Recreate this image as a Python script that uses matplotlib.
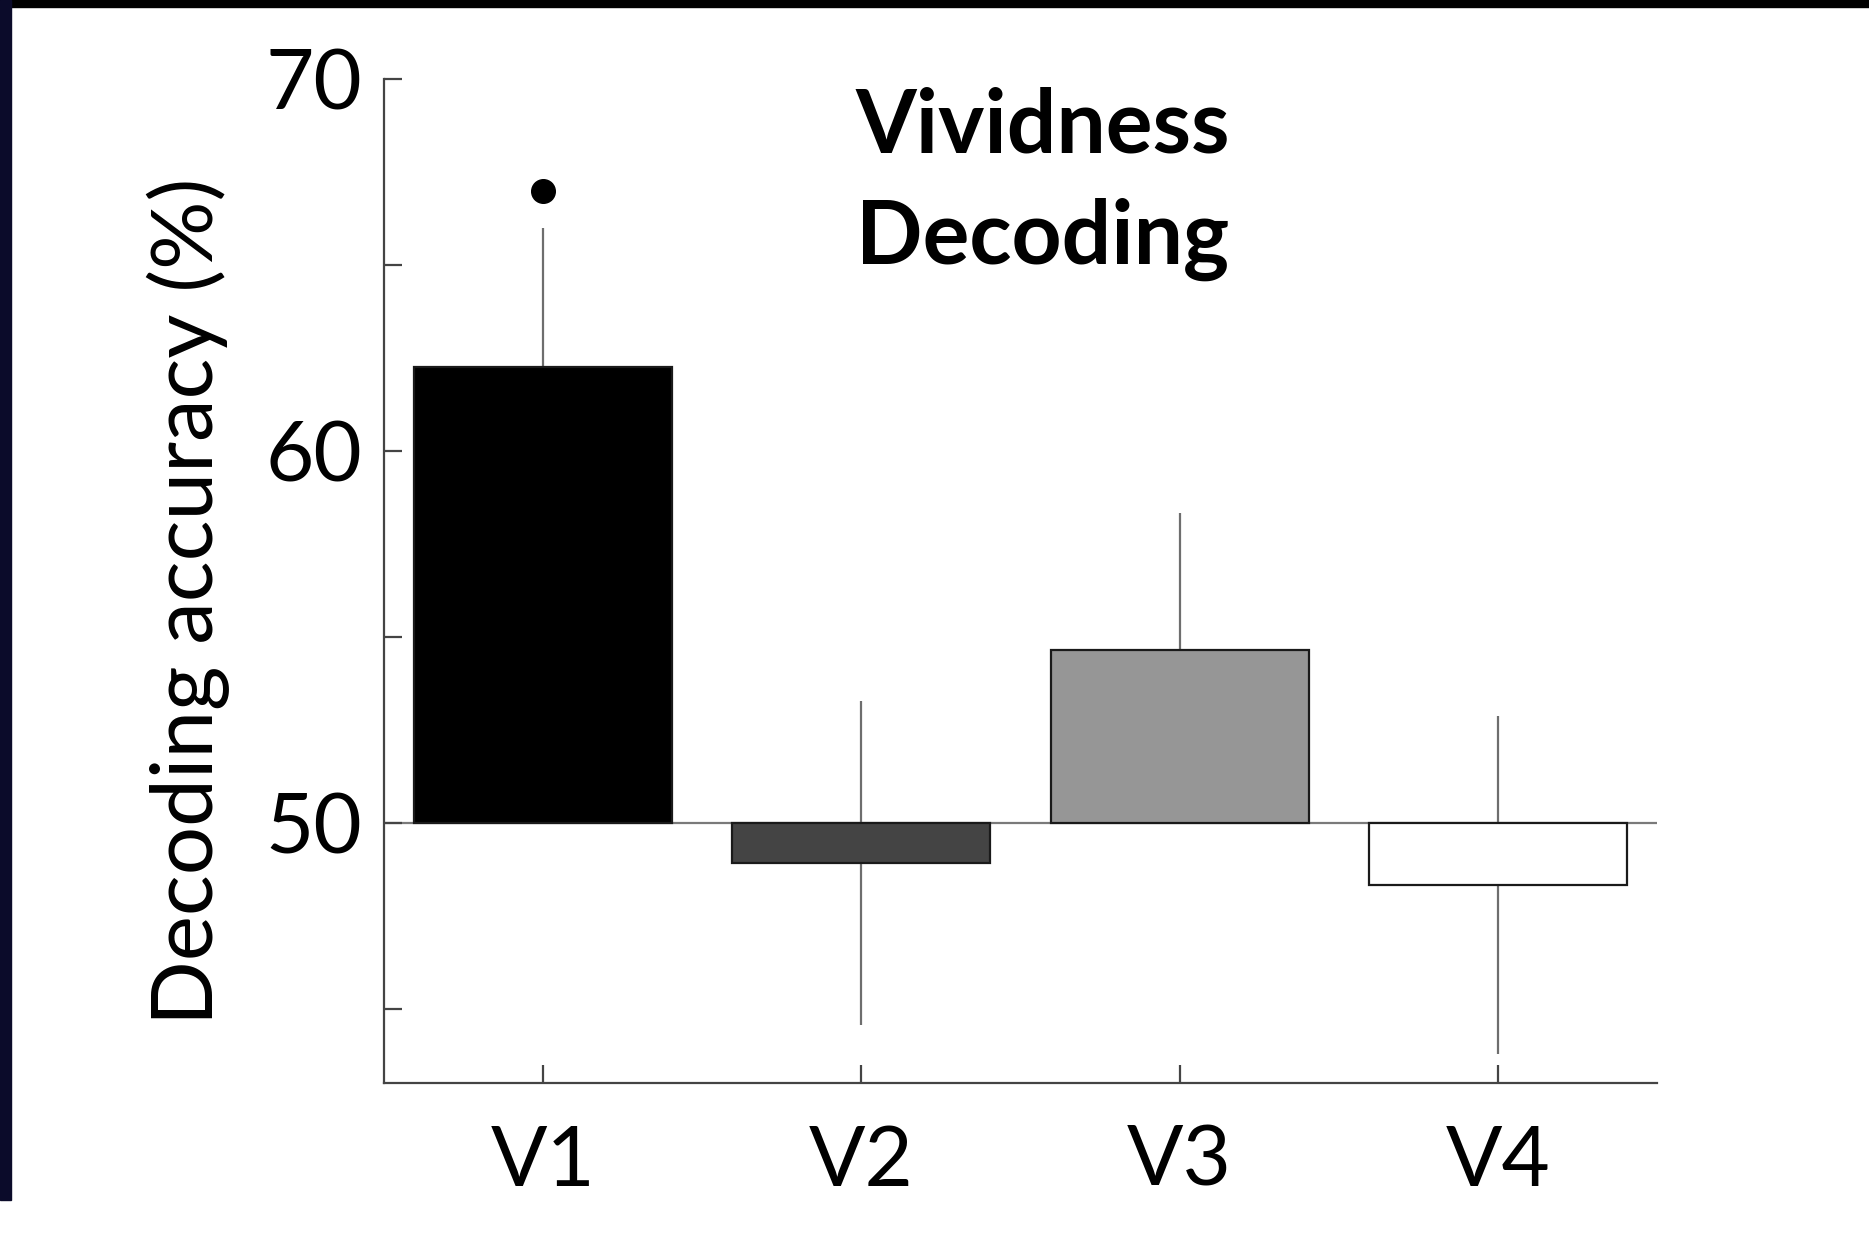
import numpy as np
import matplotlib.pyplot as plt
from matplotlib.patches import Rectangle

# data
areas = ['V1', 'V2', 'V3', 'V4']
accuracy = [62.26, 48.92, 54.65, 48.33]
sem = [3.74, 4.35, 3.69, 4.55]
bar_colors = ['#000000', '#444444', '#969696', '#ffffff']
chance = 50
signif_idx = [0]
signif_y = [67.0]

plt.rcParams['font.family'] = ['Lato', 'DejaVu Sans']

fig = plt.figure(figsize=(18.69, 12.34), dpi=100)
fig.patch.set_facecolor('white')

# slide background bits round the pasted figure
fig.patches.append(Rectangle((0, 1 - 7 / 1234), 1, 7 / 1234, transform=fig.transFigure,
                             color='black', zorder=0))
fig.patches.append(Rectangle((0, 34 / 1234), 11 / 1869, 1 - 34 / 1234, transform=fig.transFigure,
                             color='#0b0b2a', zorder=0))

ax = fig.add_axes([384 / 1869, 151 / 1234, 1273 / 1869, 1004 / 1234])

x = np.arange(1, len(areas) + 1)
bottoms = [chance] * len(areas)
heights = [a - chance for a in accuracy]

# error bars sit behind the bars, as in the original
ax.errorbar(x, accuracy, yerr=sem, fmt='none', ecolor='#6e6e6e', elinewidth=1.6,
            capsize=0, zorder=1)
ax.bar(x, heights, 0.81, bottom=bottoms, color=bar_colors, edgecolor='#1a1a1a',
       linewidth=1.6, zorder=2)
ax.axhline(chance, color='#7a7a7a', linewidth=1.6, zorder=1.5)

ax.plot(x[signif_idx], signif_y, 'o', color='black', markersize=17, zorder=3)

ax.set_xlim(0.5, 4.5)
ax.set_ylim(43, 70)
ax.set_xticks(x)
ax.set_xticklabels(areas)
ax.set_yticks([45, 50, 55, 60, 65, 70])
ax.set_yticklabels(['', '50', '', '60', '', '70'])
ax.tick_params(direction='in', length=13, width=1.6, color='#444444',
               labelsize=60)
ax.tick_params(axis='x', pad=30)
ax.tick_params(axis='y', pad=16)

for s in ['top', 'right']:
    ax.spines[s].set_visible(False)
for s in ['left', 'bottom']:
    ax.spines[s].set_color('#444444')
    ax.spines[s].set_linewidth(1.6)

ax.set_ylabel('Decoding accuracy (%)', fontsize=61.5)
ax.yaxis.set_label_coords(-0.121, 0.48)
ax.text(2.57, 69.8, 'Vividness\nDecoding', fontsize=63, fontweight='bold',
        ha='center', va='top', linespacing=1.46)

fig.savefig('out.png', dpi=100, facecolor=fig.get_facecolor())
